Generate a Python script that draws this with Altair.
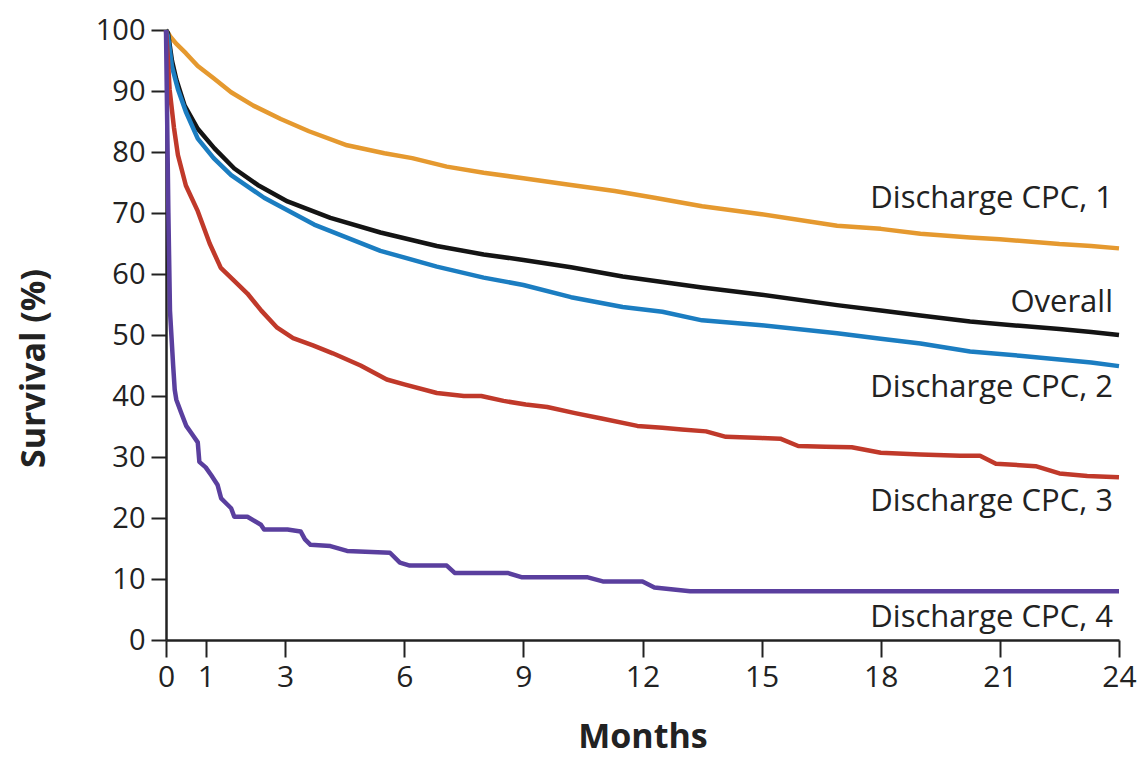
import altair as alt
import pandas as pd

# ---- data ----
series_names = ["Discharge CPC, 1", "Overall", "Discharge CPC, 2", "Discharge CPC, 3", "Discharge CPC, 4"]
series_colors = ["#E5992F", "#141414", "#1B7DC1", "#C0392A", "#5A3F9E"]

cpc1_m = [0, 0.1, 0.25, 0.5, 0.8, 1.2, 1.64, 2.2, 2.89, 3.6, 4.56, 5.5, 6.2, 7.07, 8, 9, 10.2, 11.3, 12.3, 13.5, 15, 16.9, 18, 19, 20.25, 21, 22.5, 23.3, 24]
cpc1_v = [100, 99, 97.8, 96.2, 94.1, 92.1, 89.8, 87.6, 85.4, 83.4, 81.1, 79.8, 79.0, 77.6, 76.6, 75.7, 74.6, 73.6, 72.5, 71.1, 69.8, 67.9, 67.4, 66.6, 66.0, 65.7, 64.9, 64.6, 64.2]

overall_m = [0, 0.05, 0.15, 0.26, 0.47, 0.8, 1.22, 1.72, 2.31, 3.06, 4.14, 5.4, 6.82, 8, 9, 10.2, 11.5, 12.5, 13.5, 15, 16.9, 18, 19, 20.25, 21.5, 22.5, 23.3, 24]
overall_v = [100, 99.5, 95, 91.9, 87.6, 83.8, 80.6, 77.3, 74.6, 71.9, 69.2, 66.8, 64.6, 63.2, 62.3, 61.1, 59.6, 58.7, 57.8, 56.6, 54.9, 54.0, 53.2, 52.2, 51.5, 51.0, 50.5, 50.0]

cpc2_m = [0, 0.05, 0.15, 0.3, 0.5, 0.8, 1.2, 1.64, 2.47, 3.73, 5.4, 6.82, 8, 9, 10.2, 11.5, 12.5, 13.5, 15, 16.9, 18, 19, 20.25, 21.5, 22.5, 23.3, 24]
cpc2_v = [100, 99, 94, 90.3, 86.6, 82.2, 79.0, 76.2, 72.5, 68.1, 63.8, 61.2, 59.4, 58.2, 56.2, 54.6, 53.8, 52.4, 51.6, 50.3, 49.4, 48.6, 47.3, 46.6, 46.0, 45.5, 44.9]

cpc3_m = [0, 0.05, 0.09, 0.2, 0.3, 0.5, 0.8, 1.1, 1.38, 1.7, 2.05, 2.4, 2.8, 3.2, 3.7, 4.2, 4.9, 5.56, 6.0, 6.82, 7.5, 7.94, 8.5, 9.06, 9.6, 10.3, 10.97, 11.87, 12.5, 12.99, 13.6, 14.1, 15.0, 15.47, 15.92, 16.6, 17.27, 18.0, 19.0, 20.0, 20.5, 20.9, 21.9, 22.5, 23.2, 24]
cpc3_v = [100, 95, 90.3, 84, 79.5, 74.5, 70.3, 65, 61, 59, 56.8, 54, 51.2, 49.5, 48.3, 47, 45, 42.7, 41.9, 40.5, 40.0, 40.0, 39.2, 38.6, 38.2, 37.2, 36.3, 35.1, 34.8, 34.5, 34.2, 33.3, 33.1, 33.0, 31.8, 31.7, 31.6, 30.7, 30.4, 30.2, 30.2, 28.9, 28.5, 27.3, 26.9, 26.7]

cpc4_m = [0, 0.02, 0.06, 0.1, 0.18, 0.22, 0.26, 0.38, 0.51, 0.65, 0.8, 0.84, 1.0, 1.14, 1.3, 1.39, 1.5, 1.64, 1.72, 2.05, 2.39, 2.47, 3.06, 3.39, 3.5, 3.64, 4.14, 4.56, 5.64, 5.89, 6.14, 7.07, 7.27, 8.6, 8.95, 10.6, 11.0, 12.0, 12.3, 13.2, 24]
cpc4_v = [100, 90, 70, 54, 45, 41, 39.4, 37.3, 35.1, 33.8, 32.4, 29.2, 28.3, 27, 25.4, 23.2, 22.5, 21.6, 20.2, 20.2, 18.9, 18.1, 18.1, 17.8, 16.5, 15.6, 15.4, 14.6, 14.3, 12.7, 12.2, 12.2, 11.0, 11.0, 10.3, 10.3, 9.6, 9.6, 8.6, 8.0, 8.0]

x_ticks = [0, 1, 3, 6, 9, 12, 15, 18, 21, 24]
y_ticks = list(range(0, 101, 10))

# label anchors (data units): baseline value for each series label
label_text = ["Discharge CPC, 1", "Overall", "Discharge CPC, 2", "Discharge CPC, 3", "Discharge CPC, 4"]
label_y = [70.9, 53.7, 39.9, 21.1, 2.1]
label_x = [24, 24, 24, 24, 24]

# ---- build table ----
rows = []
for name, ms, vs in zip(series_names,
                        [cpc1_m, overall_m, cpc2_m, cpc3_m, cpc4_m],
                        [cpc1_v, overall_v, cpc2_v, cpc3_v, cpc4_v]):
    for i, (m, v) in enumerate(zip(ms, vs)):
        rows.append({"series": name, "month": m, "survival": v, "idx": i})
df = pd.DataFrame(rows)
lab = pd.DataFrame({"text": label_text, "month": label_x, "survival": label_y})

FONT = "Open Sans"

x_scale = alt.Scale(domain=[0, 24], nice=False, zero=False)
y_scale = alt.Scale(domain=[0, 100], nice=False)

lines = alt.Chart(df).mark_line(strokeWidth=4.5, strokeJoin="round", strokeCap="butt").encode(
    x=alt.X("month:Q", scale=x_scale,
            axis=alt.Axis(values=x_ticks, title="Months", titleFontSize=34, titleFontWeight="bold",
                          titleFont=FONT, titleColor="#222", titleY=107, titleBaseline="alphabetic",
                          labelFont=FONT, labelFontSize=30, labelColor="#222", labelPadding=5,
                          tickSize=17, tickWidth=2, tickColor="#222",
                          domainWidth=2.5, domainColor="#222", grid=False, labelFlush=False)),
    y=alt.Y("survival:Q", scale=y_scale,
            axis=alt.Axis(values=y_ticks, title="Survival (%)", titleFontSize=34, titleFontWeight="bold",
                          titleFont=FONT, titleColor="#222", titleAngle=-90, titleX=-132, titleY=338,
                          titleAlign="center", titleBaseline="middle",
                          labelFont=FONT, labelFontSize=29, labelColor="#222", labelPadding=6,
                          tickSize=15, tickWidth=2, tickColor="#222",
                          domainWidth=2.5, domainColor="#222", grid=False, labelFlush=False)),
    color=alt.Color("series:N", scale=alt.Scale(domain=series_names, range=series_colors), legend=None),
    detail="series:N",
    order="idx:Q",
)

labels = alt.Chart(lab).mark_text(align="right", baseline="alphabetic", font=FONT, fontSize=31,
                                  color="#222", dx=-6).encode(
    x=alt.X("month:Q", scale=x_scale),
    y=alt.Y("survival:Q", scale=y_scale),
    text="text:N",
)

chart = alt.layer(lines, labels).properties(
    width=953, height=610,
    autosize=alt.AutoSizeParams(type="none"),
    padding={"left": 158, "top": 22, "right": 20, "bottom": 119},
).configure(background="white", view=alt.ViewConfig(strokeWidth=0, stroke="transparent"))

chart.save("out.html", embed_options={"renderer": "svg", "actions": False})
